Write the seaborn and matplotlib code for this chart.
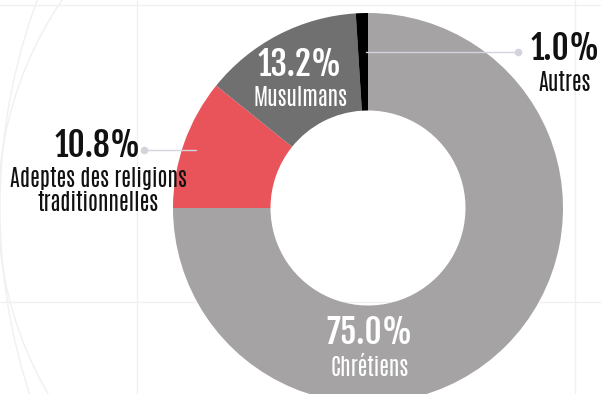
import matplotlib
matplotlib.use("Agg")
import matplotlib.pyplot as plt
import seaborn as sns
from matplotlib.patches import Circle

categories = ["Chrétiens", "Adeptes des religions\ntraditionnelles", "Musulmans", "Autres"]
values = [75.0, 10.8, 13.2, 1.0]
pct_labels = ["75.0%", "10.8%", "13.2%", "1.0%"]
colors = ["#a5a3a4", "#e9545a", "#717070", "#000000"]

sns.set_theme(style="white")
plt.rcParams['font.family'] = ['Fjalla One', 'DejaVu Sans']

W, H = 601, 394
fig = plt.figure(figsize=(W / 100, H / 100), dpi=100)
ax = fig.add_axes([0, 0, 1, 1])

def Y(y):
    return H - y

cx, cy, R = 368, Y(208), 195
wedges, _ = ax.pie(values, colors=colors, startangle=90, counterclock=False,
                   center=(cx, cy), radius=R,
                   wedgeprops=dict(width=R * 0.5, linewidth=0), frame=True)
ax.set_xlim(0, W)
ax.set_ylim(0, H)
ax.set_axis_off()

# faint decorative background grid and arcs
gc = "#f0f0f2"
for x in [137, 575]:
    ax.plot([x, x], [0, H], color=gc, lw=1, zorder=0)
for y in [5, 302]:
    ax.plot([0, W], [Y(y), Y(y)], color=gc, lw=1, zorder=0)
ax.add_patch(Circle((368, Y(208)), 370, fill=False, ec=gc, lw=1, zorder=0))
ax.add_patch(Circle((600, Y(208)), 600, fill=False, ec=gc, lw=1, zorder=0))

lc = "#d4d4dc"
# leader lines
ax.plot([366, 518], [Y(52), Y(52)], color=lc, lw=1, zorder=3)
ax.scatter([518], [Y(52)], s=30, color=lc, zorder=3, linewidths=0)
ax.plot([144, 196], [Y(150), Y(150)], color=lc, lw=1, zorder=3)
ax.scatter([144], [Y(150)], s=30, color=lc, zorder=3, linewidths=0)

big = dict(fontsize=24, ha="center", va="center", family=['Fjalla One', 'DejaVu Sans'])
small = dict(fontsize=16, ha="center", va="center", family=['Antonio', 'DejaVu Sans'])

ax.text(565, Y(48), pct_labels[3], color="#111111", **big)
ax.text(565, Y(82), categories[3], color="#111111", **small)

ax.text(98, Y(145), pct_labels[1], color="#111111", **big)
ax.text(98, Y(190), categories[1], color="#111111", linespacing=1.05, **small)

ax.text(300, Y(64), pct_labels[2], color="white", **big)
ax.text(300, Y(97), categories[2], color="white", **small)

ax.text(370, Y(332), pct_labels[0], color="white", **big)
ax.text(370, Y(368), categories[0], color="white", **small)

fig.savefig("out.png", dpi=100)
